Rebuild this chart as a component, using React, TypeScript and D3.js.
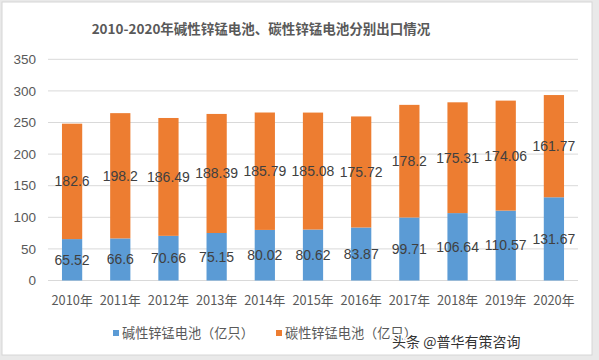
import React from "react";
import * as d3 from "d3";

const categories = ["2010年","2011年","2012年","2013年","2014年","2015年","2016年","2017年","2018年","2019年","2020年"];
const alkaline = [65.52, 66.6, 70.66, 75.15, 80.02, 80.62, 83.87, 99.71, 106.64, 110.57, 131.67];
const carbon = [182.6, 198.2, 186.49, 188.39, 185.79, 185.08, 175.72, 178.2, 175.31, 174.06, 161.77];
const yTicks = [0, 50, 100, 150, 200, 250, 300, 350];
const seriesNames = ["碱性锌锰电池（亿只）", "碳性锌锰电池（亿只）"];
const title = "2010-2020年碱性锌锰电池、碳性锌锰电池分别出口情况";
const watermark = "头条 @普华有策咨询";

const W = 599, H = 360;
const FONT = "'Noto Sans CJK SC', 'Noto Sans', sans-serif";

export default function App() {
  const x = d3.scaleBand<string>().domain(categories).range([48, 578]).paddingInner(0.58).paddingOuter(0.29);
  const y = d3.scaleLinear().domain([0, 350]).range([280.5, 59.3]);
  const blue = "#5B9BD5", orange = "#ED7D31";
  const bw = x.bandwidth();
  return (
    <svg width={W} height={H} style={{ position: "absolute", left: 0, top: 0 }} fontFamily={FONT}>
      <rect x={0} y={0} width={W} height={H} fill="#e9e9e9" />
      <rect x={2} y={2} width={590} height={353} fill="#ffffff" stroke="#d6d6d6" />
      <text x={261} y={34} textAnchor="middle" fontSize={13.5} fontWeight="bold" fill="#595959">{title}</text>
      {yTicks.map((t) => (
        <g key={t}>
          <line x1={48} x2={578} y1={y(t)} y2={y(t)} stroke="#d9d9d9" strokeWidth={1} />
          <text x={36} y={y(t)} dy="0.35em" textAnchor="end" fontSize={13.5} fill="#595959" fontFamily="'Liberation Sans', sans-serif">{t}</text>
        </g>
      ))}
      {categories.map((c, i) => {
        const x0 = x(c)!;
        const a = alkaline[i], b = carbon[i];
        return (
          <g key={c}>
            <rect x={x0} y={y(a)} width={bw} height={y(0) - y(a)} fill={blue} />
            <rect x={x0} y={y(a + b)} width={bw} height={y(a) - y(a + b)} fill={orange} />
            <text x={x0 + bw / 2} y={y(a / 2)} dy="0.35em" textAnchor="middle" fontSize={14} fill="#404040" fontFamily="'Liberation Sans', sans-serif">{a}</text>
            <text x={x0 + bw / 2} y={y(a + b / 2)} dy="0.35em" textAnchor="middle" fontSize={14} fill="#404040" fontFamily="'Liberation Sans', sans-serif">{b}</text>
            <text x={x0 + bw / 2} y={301} dy="0.35em" textAnchor="middle" fontSize={12.8} fill="#595959">{c}</text>
          </g>
        );
      })}
      <rect x={113} y={330} width={6} height={6} fill={blue} />
      <text x={122} y={333} dy="0.35em" fontSize={13.2} fill="#595959">{seriesNames[0]}</text>
      <rect x={276} y={330} width={6} height={6} fill={orange} />
      <text x={285} y={333} dy="0.35em" fontSize={13.2} fill="#595959">{seriesNames[1]}</text>
      <text x={392} y={342} dy="0.35em" fontSize={14} fill="#333333" stroke="#ffffff" strokeWidth={3} paintOrder="stroke">{watermark}</text>
    </svg>
  );
}
